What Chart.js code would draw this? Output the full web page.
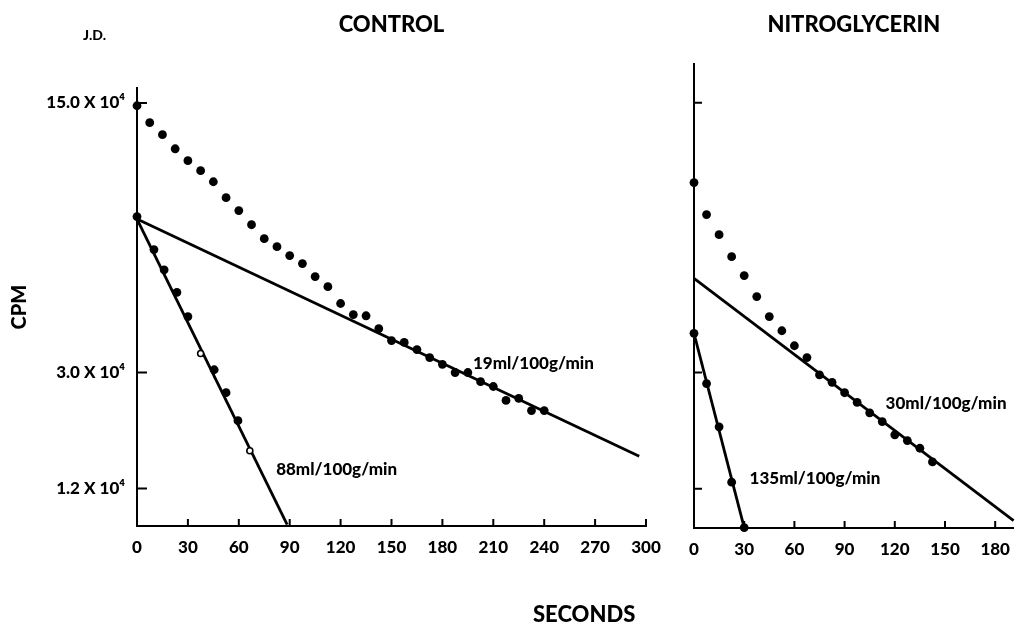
<!DOCTYPE html>
<html><head><meta charset="utf-8">
<script src="https://cdn.jsdelivr.net/npm/chart.js@4.4.1/dist/chart.umd.min.js"></script>
<style>
html,body{margin:0;padding:0;background:#fff;width:1018px;height:623px;overflow:hidden;position:relative;font-family:Lato,"DejaVu Sans",sans-serif;}
canvas{position:absolute;top:0;}
#cL{left:0}
#cR{left:665px}
.lbl{position:absolute;font-weight:900;color:#000;white-space:nowrap;line-height:1;}
</style></head><body>
<canvas id="cL" width="665" height="623"></canvas>
<canvas id="cR" width="353" height="623"></canvas>
<div class="lbl" style="left:83px;top:28px;font-size:14px;">J.D.</div>
<div class="lbl" style="left:533px;top:603px;font-size:22px;">SECONDS</div>
<script>
// ---------- DATA (seconds, counts per minute) ----------
const yTickValues = [150000, 30000, 15000];
const yTickLabels = ['15.0 X 10⁴', '3.0 X 10⁴', '1.2 X 10⁴'];
const controlXTicks = [0, 30, 60, 90, 120, 150, 180, 210, 240, 270, 300];
const nitroXTicks = [0, 30, 60, 90, 120, 150, 180];

// CONTROL – total clearance curve
const controlTimes = [0,7.5,15,22.5,30,37.5,45,52.5,60,67.5,75,82.5,90,97.5,105,112.5,120,127.5,135,142.5,150,157.5,165,172.5,180,187.5,195,202.5,210,217.5,225,232.5,240];
const controlTotal = [147500,133300,124100,114100,106300,100100,93700,85200,78900,72500,66700,63600,60300,57500,53200,50100,45300,42400,42100,39000,36300,35900,34400,32800,31500,30000,30000,28400,27600,25400,25700,23900,23900];
// CONTROL – fast component (filled and open points)
const controlFastTimes = [0, 10, 16, 23.5, 30, 45.5, 52.5, 59.5];
const controlFastValues = [76100, 62500, 55400, 48400, 41900, 30500, 26600, 22500];
const controlOpenTimes = [37.5, 66.5];
const controlOpenValues = [33600, 18800];
// CONTROL – fitted lines
const controlSlowLineT = [0, 296];
const controlSlowLineV = [75000, 18200];
const controlFastLineT = [0, 88.5];
const controlFastLineV = [75000, 12100];

// NITROGLYCERIN – total clearance curve
const nitroTimes = [0,7.5,15,22.5,30,37.5,45,52.5,60,67.5,75,82.5,90,97.5,105,112.5,120,127.5,135,142.5];
const nitroTotal = [93200,77000,68300,59900,53500,47200,41900,38500,35200,32800,29600,28300,26600,25100,23600,22400,20700,20000,19100,17600];
// NITROGLYCERIN – fast component
const nitroFastTimes = [0, 7.5, 15, 22.5, 30];
const nitroFastValues = [37900, 28100, 21700, 15600, 11900];
// NITROGLYCERIN – fitted lines
const nitroSlowLineT = [0, 191];
const nitroSlowLineV = [52600, 12410];
const nitroFastLineT = [0, 30];
const nitroFastLineV = [37900, 11900];

// ---------- RENDERING ----------
const FONT = 'Lato, "DejaVu Sans", sans-serif';
const pts = (ts, vs) => ts.map((t, i) => ({x: t, y: vs[i]}));

const dots = (ts, vs) => ({type:'scatter', data: pts(ts, vs), pointRadius: 4.4, pointBackgroundColor:'#000', pointBorderWidth:0, clip:false, order:0});
const openDots = (ts, vs) => ({type:'scatter', data: pts(ts, vs), pointRadius: 3, pointBackgroundColor:'#fff', pointBorderColor:'#000', pointBorderWidth:1.6, clip:false, order:0});
const fitLine = (ts, vs) => ({type:'line', data: pts(ts, vs), showLine:true, pointRadius:0, borderColor:'#000', borderWidth:2.8, clip:false, order:1});

const inwardTicks = {
  id: 'inwardTicks',
  afterDraw(chart, args, opts) {
    const {ctx, chartArea: a, scales: {x, y}} = chart;
    ctx.save();
    ctx.strokeStyle = '#000';
    ctx.lineWidth = 2;
    ctx.beginPath();
    x.ticks.forEach(t => {
      if (t.value === 0) return;
      const px = x.getPixelForValue(t.value);
      ctx.moveTo(px, a.bottom);
      ctx.lineTo(px, a.bottom - opts.xLen);
    });
    y.ticks.forEach(t => {
      const py = y.getPixelForValue(t.value);
      ctx.moveTo(a.left, py);
      ctx.lineTo(a.left + opts.yLen, py);
    });
    ctx.stroke();
    ctx.restore();
  }
};

const rateLabels = {
  id: 'rateLabels',
  afterDatasetsDraw(chart, args, opts) {
    const {ctx, scales: {x, y}} = chart;
    ctx.save();
    ctx.fillStyle = '#000';
    ctx.font = '900 17px ' + FONT;
    ctx.textAlign = 'left';
    ctx.textBaseline = 'middle';
    (opts.items || []).forEach(it => {
      ctx.fillText(it.text, x.getPixelForValue(it.t), y.getPixelForValue(it.v));
    });
    ctx.restore();
  }
};

function makeChart(id, cfg) {
  return new Chart(document.getElementById(id), {
    type: 'scatter',
    data: {datasets: cfg.datasets},
    options: {
      responsive: false,
      animation: false,
      events: [],
      layout: {padding: {left: 0, right: cfg.padRight, top: 0, bottom: 0}},
      plugins: {
        legend: {display: false},
        tooltip: {enabled: false},
        title: {display: true, text: cfg.title, fullSize: false, color: '#000',
                font: {family: FONT, size: 22, weight: 900},
                padding: {top: 12, bottom: cfg.titlePadBottom}},
        inwardTicks: {xLen: 7, yLen: cfg.yTickLen},
        rateLabels: {items: cfg.labels}
      },
      scales: {
        x: {
          type: 'linear', min: 0, max: cfg.xMax,
          afterBuildTicks: s => { s.ticks = cfg.xTicks.map(v => ({value: v})); },
          afterFit: s => { s.height = cfg.xAxisHeight; s.paddingLeft = 0; s.paddingRight = 0; },
          grid: {display: false},
          border: {display: true, color: '#000', width: 2},
          ticks: {color: '#000', font: {family: FONT, size: 17, weight: 900}, padding: 3,
                  autoSkip: false, maxRotation: 0, callback: v => String(v)}
        },
        y: {
          type: 'logarithmic', min: cfg.yMin, max: cfg.yMax,
          afterBuildTicks: s => { s.ticks = yTickValues.map(v => ({value: v})); },
          afterFit: s => { s.width = cfg.yAxisWidth; s.paddingTop = 0; s.paddingBottom = 0; },
          grid: {display: false},
          border: {display: true, color: '#000', width: 2},
          ticks: {display: cfg.showYLabels, color: '#000', font: {family: FONT, size: 17, weight: 900}, padding: 4,
                  callback: v => { const i = yTickValues.indexOf(v); return i >= 0 ? yTickLabels[i] : ''; }},
          title: {display: cfg.showYLabels, text: 'CPM', color: '#000',
                  font: {family: FONT, size: 20, weight: 900}, padding: {top: 8, bottom: 4}}
        }
      }
    },
    plugins: [inwardTicks, rateLabels]
  });
}

makeChart('cL', {
  title: 'CONTROL',
  titlePadBottom: 49.6,
  padRight: 19,
  xMax: 300, xTicks: controlXTicks, xAxisHeight: 97,
  yMin: 12000, yMax: 164000, yAxisWidth: 137, yTickLen: 10, showYLabels: true,
  labels: [
    {text: '19ml/100g/min', t: 198, v: 31700},
    {text: '88ml/100g/min', t: 82, v: 16800}
  ],
  datasets: [
    dots(controlTimes, controlTotal),
    dots(controlFastTimes, controlFastValues),
    openDots(controlOpenTimes, controlOpenValues),
    fitLine(controlSlowLineT, controlSlowLineV),
    fitLine(controlFastLineT, controlFastLineV)
  ]
});

makeChart('cR', {
  title: 'NITROGLYCERIN',
  titlePadBottom: 25.6,
  padRight: 2,
  xMax: 191, xTicks: nitroXTicks, xAxisHeight: 95,
  yMin: 11870, yMax: 189000, yAxisWidth: 29, yTickLen: 8, showYLabels: false,
  labels: [
    {text: '30ml/100g/min', t: 114.5, v: 24900},
    {text: '135ml/100g/min', t: 33.2, v: 15900}
  ],
  datasets: [
    dots(nitroTimes, nitroTotal),
    dots(nitroFastTimes, nitroFastValues),
    fitLine(nitroSlowLineT, nitroSlowLineV),
    fitLine(nitroFastLineT, nitroFastLineV)
  ]
});
</script>
</body></html>
